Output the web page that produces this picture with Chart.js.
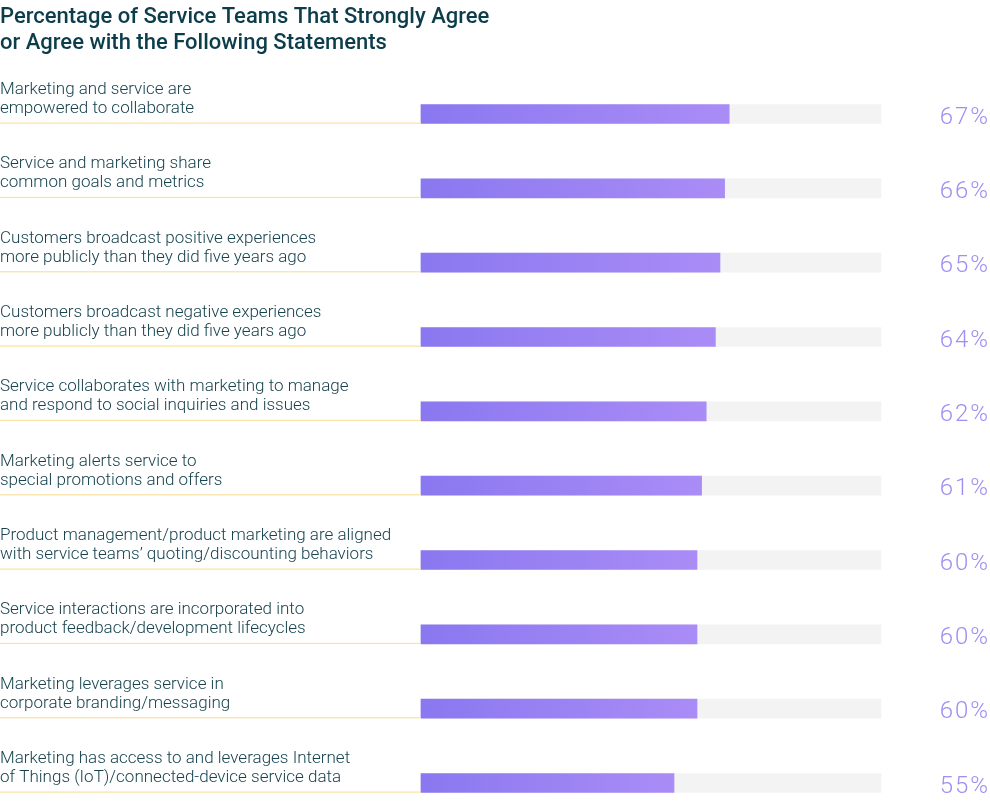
<!DOCTYPE html>
<html>
<head>
<meta charset="utf-8">
<script src="https://cdn.jsdelivr.net/npm/chart.js@4"></script>
<style>
  html, body { margin: 0; padding: 0; background: #ffffff; }
  canvas { display: block; }
</style>
</head>
<body>
<canvas id="barChart" width="990" height="803"></canvas>
<script>
// Survey statements (two lines each, as set in the source)
const statements = [
    ['Marketing and service are', 'empowered to collaborate'],
    ['Service and marketing share', 'common goals and metrics'],
    ['Customers broadcast positive experiences', 'more publicly than they did five years ago'],
    ['Customers broadcast negative experiences', 'more publicly than they did five years ago'],
    ['Service collaborates with marketing to manage', 'and respond to social inquiries and issues'],
    ['Marketing alerts service to', 'special promotions and offers'],
    ['Product management/product marketing are aligned', 'with service teams\u2019 quoting/discounting behaviors'],
    ['Service interactions are incorporated into', 'product feedback/development lifecycles'],
    ['Marketing leverages service in', 'corporate branding/messaging'],
    ['Marketing has access to and leverages Internet', 'of Things (IoT)/connected-device service data']
];

// % strongly agree or agree
const agreePct = [67, 66, 65, 64, 62, 61, 60, 60, 60, 55];

// background track for each bar (full scale)
const trackPct = [100, 100, 100, 100, 100, 100, 100, 100, 100, 100];

const titleLines = [
    'Percentage of Service Teams That Strongly Agree',
    'or Agree with the Following Statements'
];

// colours
const titleColor = '#0b3d4b';
const labelColor = '#17434f';
const ruleColor = '#fbe2a4';
const trackColor = '#f3f3f3';
const barStart = '#8a78f0';
const barEnd = '#aa8cf6';
const valueColor = '#a08ef2';

const fontFamily = 'Roboto, "Noto Sans", sans-serif';

function barGradient(context) {
    const chart = context.chart;
    const xScale = chart.scales.x;
    if (!chart.chartArea || !xScale) return barStart;
    const x0 = xScale.getPixelForValue(0);
    const x1 = xScale.getPixelForValue(context.raw);
    const g = chart.ctx.createLinearGradient(x0, 0, x1, 0);
    g.addColorStop(0, barStart);
    g.addColorStop(1, barEnd);
    return g;
}

// draws title, statement text, underline rules and percentage values
const textPlugin = {
    id: 'rowText',
    afterDatasetsDraw(chart) {
        const ctx = chart.ctx;
        const xScale = chart.scales.x;
        const yScale = chart.scales.y;
        const half = 9.5;
        ctx.save();

        ctx.fillStyle = titleColor;
        ctx.font = '500 22px ' + fontFamily;
        ctx.textAlign = 'left';
        ctx.textBaseline = 'alphabetic';
        ctx.fillText(titleLines[0], 0, 23);
        ctx.fillText(titleLines[1], 0, 49);

        const left = xScale.getPixelForValue(0);
        statements.forEach((lines, i) => {
            const y = yScale.getPixelForValue(i);
            ctx.fillStyle = ruleColor;
            ctx.fillRect(0, y + half - 1, left, 1.2);

            ctx.fillStyle = labelColor;
            ctx.font = '300 17px ' + fontFamily;
            ctx.textAlign = 'left';
            ctx.letterSpacing = '0px';
            ctx.fillText(lines[0], 0, y - 20);
            ctx.fillText(lines[1], 0, y - 1);

            ctx.fillStyle = valueColor;
            ctx.font = '300 24px ' + fontFamily;
            ctx.textAlign = 'right';
            ctx.letterSpacing = '2px';
            ctx.fillText(agreePct[i] + '%', 990, y + half);
        });
        ctx.restore();
    }
};

const ctxBar = document.getElementById('barChart').getContext('2d');
new Chart(ctxBar, {
    type: 'bar',
    data: {
        labels: statements.map(s => s.join(' ')),
        datasets: [
            {
                label: 'Agree',
                data: agreePct,
                backgroundColor: barGradient,
                grouped: false,
                barThickness: 19,
                order: 1,
                clip: false
            },
            {
                label: 'Track',
                data: trackPct,
                backgroundColor: trackColor,
                grouped: false,
                barThickness: 19,
                order: 2,
                clip: false
            }
        ]
    },
    options: {
        indexAxis: 'y',
        responsive: false,
        animation: false,
        devicePixelRatio: 1,
        layout: { padding: { left: 421, right: 109, top: 114, bottom: 20 } },
        plugins: {
            legend: { display: false },
            tooltip: { enabled: false }
        },
        scales: {
            x: { min: 0, max: 100, display: false },
            y: { display: false, offset: false }
        }
    },
    plugins: [textPlugin]
});
</script>
</body>
</html>
